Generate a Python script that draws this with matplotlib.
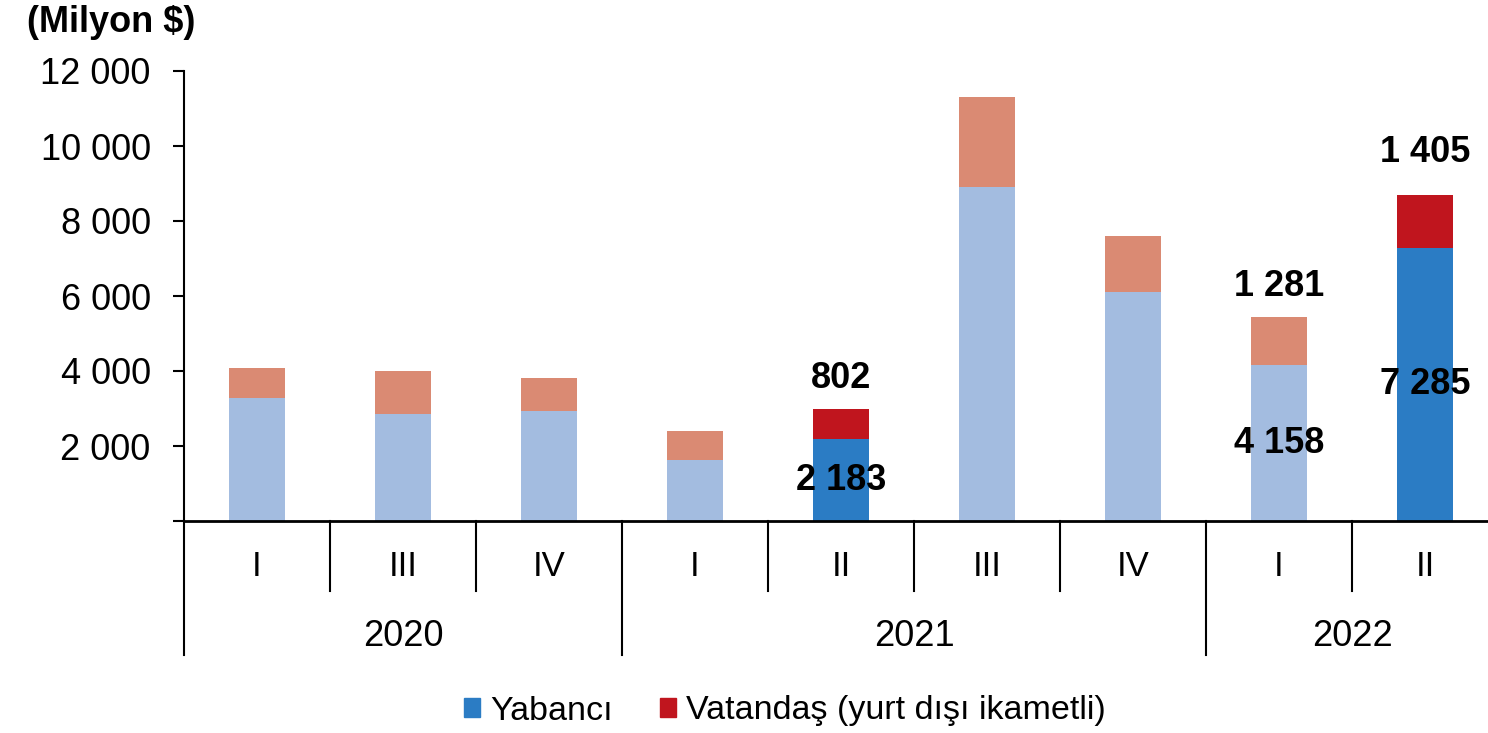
import matplotlib
matplotlib.use("Agg")
import matplotlib.pyplot as plt
from matplotlib.patches import Patch
from matplotlib.ticker import FuncFormatter

# ------------------------
# Data
# ------------------------
quarters = ["I", "III", "IV", "I", "II", "III", "IV", "I", "II"]
years = ["2020", "2021", "2022"]
year_spans = [(0, 2), (3, 6), (7, 8)]   # first and last category of each year
yabanci = [3280, 2850, 2930, 1630, 2183, 8900, 6100, 4158, 7285]
vatandas = [800, 1150, 880, 770, 802, 2400, 1500, 1281, 1405]
highlight = [False, False, False, False, True, False, False, False, True]
labelled = [4, 7, 8]

# ------------------------
# Style
# ------------------------
plt.rcParams["font.family"] = ["Liberation Sans", "DejaVu Sans"]
BLUE = "#2b7cc4"
RED = "#c0151e"
BLUE_FADE = "#a3bce0"
RED_FADE = "#da8a73"
W, H, DPI = 1488, 733, 100

fig = plt.figure(figsize=(W / DPI, H / DPI), dpi=DPI)
left, right, top, bottom = 184, 1498, 71, 521
ax = fig.add_axes([left / W, 1 - bottom / H, (right - left) / W, (bottom - top) / H])

x = list(range(len(quarters)))
c1 = [BLUE if h else BLUE_FADE for h in highlight]
c2 = [RED if h else RED_FADE for h in highlight]
ax.bar(x, yabanci, width=0.39, color=c1, zorder=2)
ax.bar(x, vatandas, width=0.39, bottom=yabanci, color=c2, zorder=2)

ax.set_xlim(-0.5, len(quarters) - 0.5)
ax.set_ylim(0, 12000)
ax.set_yticks(range(0, 12001, 2000))
ax.yaxis.set_major_formatter(FuncFormatter(
    lambda v, p: "" if v == 0 else f"{int(v):,}".replace(",", " ")))
ax.tick_params(axis="y", labelsize=26, length=8, width=1.5, pad=16)
ax.set_xticks([])
for s in ["top", "right"]:
    ax.spines[s].set_visible(False)
ax.spines["left"].set_linewidth(1.5)
ax.spines["bottom"].set_linewidth(2)

# category labels and separators below axis
ppx = 1 / (bottom - top)   # axes fraction per pixel
trans = ax.get_xaxis_transform()
for i, q in enumerate(quarters):
    ax.text(i, -46 * ppx, q, transform=trans, ha="center", va="center", fontsize=25)
year_edges = [s - 0.5 for s, e in year_spans]
for b in [i - 0.5 for i in range(len(quarters))]:
    depth = 134 if b in year_edges else 70
    ax.plot([b, b], [0, -depth * ppx], transform=trans, color="black", lw=1.5, clip_on=False)
for yr, (s, e) in zip(years, year_spans):
    ax.text((s + e) / 2, -115 * ppx, yr, transform=trans, ha="center", va="center", fontsize=26)

# data labels
top_offsets = [31, 31, 43]
for i, off in zip(labelled, top_offsets):
    ax.text(i, yabanci[i] / 2, f"{yabanci[i]:,}".replace(",", " "), ha="center", va="center",
            fontsize=26, fontweight="bold", zorder=3)
    ax.annotate(f"{vatandas[i]:,}".replace(",", " "), (i, yabanci[i] + vatandas[i]),
                xytext=(0, off * 72 / DPI), textcoords="offset points",
                ha="center", va="center", fontsize=26, fontweight="bold")

fig.text(27 / W, 1 - 22 / H, "(Milyon $)", fontsize=26, fontweight="bold", va="center", ha="left")

handles = [Patch(color=BLUE, label="Yabancı"), Patch(color=RED, label="Vatandaş (yurt dışı ikametli)")]
fig.legend(handles=handles, loc="center", bbox_to_anchor=(785 / W, 1 - 711 / H), ncol=2,
           frameon=False, fontsize=24.5, handlelength=0.45, handleheight=0.45,
           handletextpad=0.3, columnspacing=1.4)

fig.savefig("out.png", dpi=DPI)
